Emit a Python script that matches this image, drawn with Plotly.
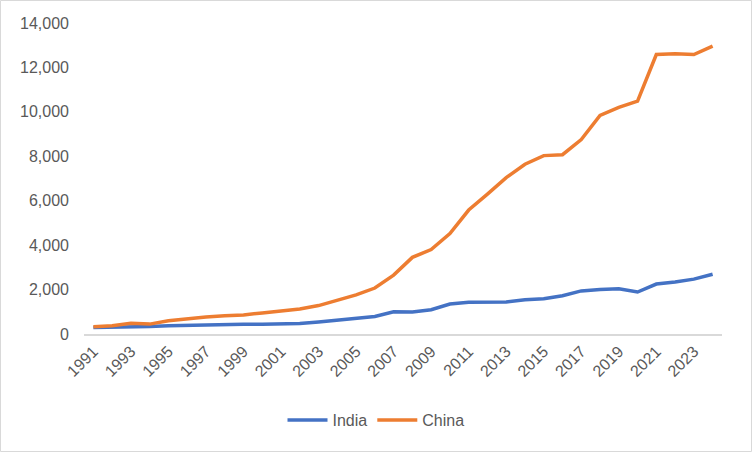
import plotly.graph_objects as go

years = [str(y) for y in range(1991, 2025)]
india = [290, 310, 295, 340, 375, 400, 415, 415, 440, 440, 450, 470, 545, 625, 700, 790,
         1000, 995, 1090, 1350, 1430, 1440, 1445, 1540, 1590, 1725, 1940, 2000, 2040, 1890,
         2250, 2340, 2470, 2690]
china = [330, 370, 480, 445, 600, 690, 770, 820, 860, 950, 1040, 1130, 1280, 1500, 1760, 2070,
         2650, 3450, 3800, 4520, 5580, 6300, 7040, 7640, 8030, 8070, 8750, 9840, 10200, 10480,
         12580, 12620, 12580, 12960]
y_ticks = [0, 2000, 4000, 6000, 8000, 10000, 12000, 14000]
x_ticks = years[::2]

W, H = 752, 452
L, R, T, B = 84, 30, 23, 118
pw, ph = W - L - R, H - T - B

font = dict(family="Liberation Sans, Arial, sans-serif", size=16, color="#595959")

fig = go.Figure()
fig.add_trace(go.Scatter(x=years, y=india, name="India", mode="lines",
                         line=dict(color="#4472C4", width=3.5)))
fig.add_trace(go.Scatter(x=years, y=china, name="China", mode="lines",
                         line=dict(color="#ED7D31", width=3.5)))

fig.update_layout(
    width=W, height=H,
    margin=dict(l=L, r=R, t=T, b=B),
    paper_bgcolor="white", plot_bgcolor="white",
    font=font,
    showlegend=True,
    legend=dict(orientation="h", x=(376 - L) / pw, xanchor="center",
                y=(334 - 420) / ph, yanchor="middle", font=font,
                itemwidth=40, tracegroupgap=0),
    xaxis=dict(type="category", tickmode="array", tickvals=x_ticks, ticktext=x_ticks,
               tickangle=-45, showgrid=False, showline=True, linecolor="#d9d9d9",
               linewidth=1.5, ticks="", zeroline=False, tickfont=font,
               range=[-0.5, len(years) - 0.5]),
    yaxis=dict(range=[0, 14000], tickmode="array", tickvals=y_ticks,
               ticktext=[f"{v:,}" for v in y_ticks], showgrid=False, zeroline=False,
               showline=False, ticks="", ticklabelstandoff=14, tickfont=font),
)

fig.add_shape(type="rect", xref="paper", yref="paper",
              x0=(0.5 - L) / pw, x1=(W - 0.5 - L) / pw,
              y0=(334 - (H - 0.5)) / ph, y1=(334 - 0.5) / ph,
              line=dict(color="#d9d9d9", width=1), fillcolor="rgba(0,0,0,0)", layer="below")

fig.write_html("out.html", config={"displayModeBar": False},
               post_script="document.body.style.margin='0';document.body.style.overflow='hidden';")
